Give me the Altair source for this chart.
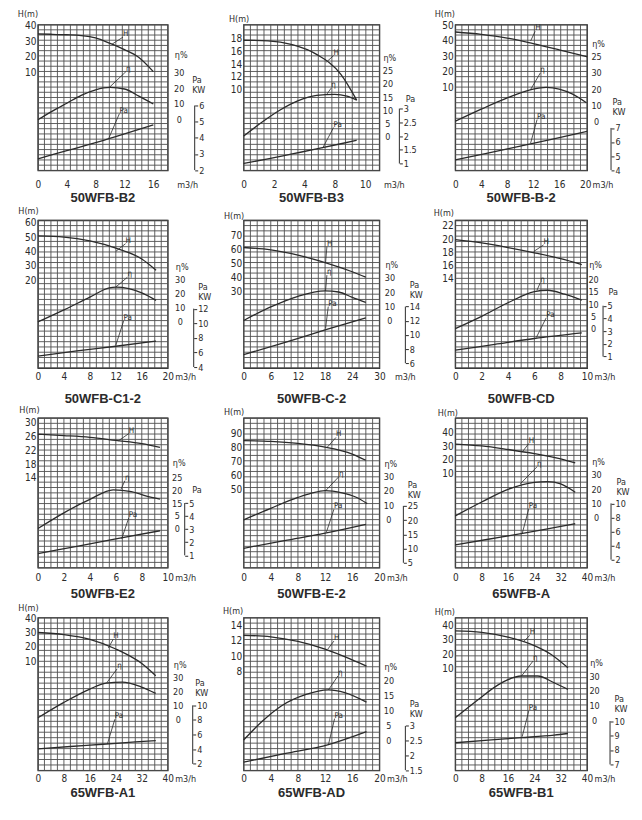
import altair as alt
import pandas as pd

FONT = "Liberation Sans Narrow, DejaVu Sans Condensed, Liberation Sans, sans-serif"
TFONT = "Liberation Sans"
INK = "#2b2b2b"
GRID = "#4f4f4f"

NAMES = ["50WFB-B2", "50WFB-B3", "50WFB-B-2",
         "50WFB-C1-2", "50WFB-C-2", "50WFB-CD",
         "50WFB-E2", "50WFB-E-2", "65WFB-A",
         "65WFB-A1", "65WFB-AD", "65WFB-B1"]

# ---------------- flow axis (m3/h) ----------------
Q_MAX = [18, 11.17, 20.3, 20, 30, 10, 10, 20, 40, 40, 20, 40]
Q_TICKS = [
    [0, 4, 8, 12, 16], [0, 2.5, 5, 7.5, 10], [0, 4, 8, 12, 16, 20],
    [0, 4, 8, 12, 16, 20], [0, 6, 12, 18, 24, 30], [0, 2, 4, 6, 8, 10],
    [0, 2, 4, 6, 8, 10], [0, 4, 8, 12, 16, 20], [0, 8, 16, 24, 32, 40],
    [0, 8, 16, 24, 32, 40], [0, 4, 8, 12, 16, 20], [0, 8, 16, 24, 32, 40],
]
Q_TEXT = [
    ["0", "4", "8", "12", "16"], ["0", "2", "4", "8", "10"], ["0", "4", "8", "12", "16", "20"],
    ["0", "4", "8", "12", "16", "20"], ["0", "6", "12", "18", "24", "30"], ["0", "2", "4", "6", "8", "10"],
    ["0", "2", "4", "6", "8", "10"], ["0", "4", "8", "12", "16", "20"], ["0", "8", "16", "24", "32", "40"],
    ["0", "8", "16", "24", "32", "40"], ["0", "4", "8", "12", "16", "20"], ["0", "8", "16", "24", "32", "40"],
]

# ---------------- head axis H (m) ----------------
H_TICKS = [
    [10, 20, 30, 40], [10, 12, 14, 16, 18], [10, 20, 30, 40, 50],
    [20, 30, 40, 50, 60], [30, 40, 50, 60, 70], [14, 16, 18, 20, 22],
    [14, 18, 22, 26, 30], [50, 60, 70, 80, 90], [10, 20, 30, 40],
    [10, 20, 30, 40], [8, 10, 12, 14], [10, 20, 30, 40],
]
# ---------------- efficiency axis (%) ----------------
E_TICKS = [
    [0, 10, 20, 30], [0, 5, 10, 15, 20, 25], [0, 10, 20, 30, 40],
    [0, 10, 20, 30], [0, 10, 20, 30], [0, 5, 10, 15, 20],
    [0, 5, 10, 15, 20], [0, 10, 20, 30], [0, 10, 20, 30],
    [0, 10, 20, 30], [0, 5, 10, 15, 20], [0, 10, 20, 30],
]
E_TEXT = [
    ["0", "10", "20", "30"], ["0", "5", "10", "15", "20", "25"], ["0", "10", "20", "30", "25"],
    ["0", "10", "20", "30"], ["0", "10", "20", "30"], ["0", "5", "10", "15", "20"],
    ["0", "5", "15", "20", "25"], ["0", "10", "20", "30"], ["0", "10", "20", "30"],
    ["0", "10", "20", "30"], ["0", "5", "10", "15", "20"], ["0", "10", "20", "30"],
]
# ---------------- shaft power axis (kW) ----------------
P_TICKS = [
    [2, 3, 4, 5, 6], [1, 1.5, 2, 2.5, 3], [4, 5, 6, 7],
    [4, 6, 8, 10, 12], [6, 8, 10, 12, 14], [1, 2, 3, 4, 5],
    [1, 2, 3, 4, 5], [5, 10, 15, 20, 25], [2, 4, 6, 8, 10],
    [2, 4, 6, 8, 10], [1.5, 2, 2.5, 3], [7, 8, 9, 10],
]
PA_TITLE_TEXT = ["Pa KW", "Pa", "Pa KW", "Pa KW", "Pa KW", "Pa",
                 "Pa", "Pa KW", "Pa KW", "Pa KW", "Pa KW", "Pa KW"]

# ---------------- curves ----------------
QH = [[0, 2, 4, 6, 8, 10, 12, 14, 16], [0, 2, 4, 6, 8, 9.3], [0, 4, 8, 12, 16, 20.3],
      [0, 4, 8, 12, 16, 18.2], [0, 6, 12, 18, 24, 27], [0, 2, 4, 6, 8, 9.6],
      [0, 2, 4, 6, 8, 9.4], [0, 4, 8, 12, 16, 18], [0, 8, 16, 24, 32, 36.4],
      [0, 8, 16, 24, 32, 36.3], [0, 4, 8, 12, 16, 18.1], [0, 8, 16, 24, 29, 34.2]]
H = [[34.5, 34.3, 34, 33.5, 32, 28.5, 24.5, 19.5, 10.5], [17.7, 17.6, 17.0, 15.5, 12.4, 8.4],
     [45.7, 44.2, 41.8, 38.2, 34.2, 29.7], [50.8, 50, 47.3, 42.3, 34.8, 27],
     [61.2, 59.5, 55.8, 50.5, 44, 40.2], [19.9, 19.4, 18.7, 17.9, 17.0, 16.1],
     [26.7, 26.3, 25.8, 24.9, 24, 22.9], [84.7, 84.2, 82.8, 80.1, 75.2, 70.8],
     [31.6, 30.2, 27.6, 24.6, 20.7, 17.7], [30.1, 28.6, 25.3, 18.6, 8.5, 0],
     [12.7, 12.5, 11.9, 10.9, 9.5, 8.7], [36.1, 35.1, 31.9, 26, 20, 10.6]]

QE = [[0, 2, 4, 6, 8, 10, 12, 14, 16], [0, 1.5, 3, 4.5, 6, 7.5, 8.5, 9.3],
      [0, 4, 8, 12, 14, 16, 18, 20.2], [0, 4, 8, 11, 12, 14, 16, 18.2],
      [0, 6, 12, 18, 21, 24, 27], [0, 2, 4, 6, 7, 8.3, 9.6],
      [0, 2, 4, 5.8, 7.2, 8.3, 9.4], [0, 4, 8, 10, 12, 14.5, 16.5, 18.2],
      [0, 8, 16, 24, 28, 32, 36.4], [0, 8, 16, 21, 26, 31.7, 36.3],
      [0, 2.7, 5.6, 9.1, 12.5, 14.9, 18.1], [0, 7, 13, 20, 25, 30, 34.2]]
ETA = [[0, 5.5, 10.5, 15.5, 19, 20.5, 19.5, 15, 10], [0, 5.3, 10, 13.6, 15.6, 16, 15.3, 13.8],
       [0, 7.5, 14.5, 20, 21, 20, 17, 11.5], [0, 8.5, 17.5, 24, 24.5, 23.5, 20.5, 15.2],
       [0, 9.5, 17, 20.8, 20, 16.2, 12.7], [0, 5, 10.5, 15, 15.6, 14, 11.6],
       [0, 6.2, 11.5, 15.3, 14.6, 12.9, 11.6], [0, 8, 15.5, 18.5, 20.3, 18.7, 15.8, 11.2],
       [1, 10.8, 19.8, 24.7, 25.3, 23.6, 17.7], [1.5, 12.5, 22, 26.3, 26.9, 23.6, 18.9],
       [0, 6.2, 11.5, 15.2, 16.8, 15.9, 12.7], [1.5, 14, 24, 30, 30, 25.4, 20.9]]

QP = [[0, 4, 8, 12, 16], [0, 2, 4, 6, 8, 9.3], [0, 5, 10, 15, 20.3], [0, 6, 12, 18.2],
      [0, 9, 18, 27], [0, 3, 6, 9.6], [0, 3, 6, 9.4], [0, 6, 12, 18],
      [0, 10, 20, 30, 36.4], [0, 10, 20, 30, 36.3], [0, 6, 12.5, 18.1], [0, 10, 20, 30, 34.2]]
PA = [[2.7, 3.2, 3.7, 4.25, 4.8], [1.0, 1.17, 1.35, 1.53, 1.72, 1.85], [4.72, 5.2, 5.7, 6.2, 6.75],
      [5.5, 6.2, 6.85, 7.55], [7.2, 8.9, 10.7, 12.4], [1.5, 1.96, 2.42, 2.86],
      [1.13, 1.69, 2.25, 2.88], [10.1, 12.8, 15.4, 18.5], [4.1, 4.9, 5.7, 6.55, 7.1],
      [4.05, 4.37, 4.68, 5.0, 5.18], [1.77, 2.06, 2.37, 2.81], [8.5, 8.68, 8.85, 9.03, 9.14]]

# curve call-outs: (q on curve, value on curve, q of label, value of label)
ANN_H = [(10.3, 28.1, 11.8, 32.5), (6.8, 14.3, 7.4, 15.3), (11.6, 39.9, 12.3, 46.1),
         (12, 40.1, 13.5, 45.4), (18.1, 50.2, 18.4, 61.8), (5.95, 18.1, 6.7, 19.1),
         (6.2, 24.8, 7.0, 26.9), (12.3, 80, 13.6, 87), (20.3, 25.7, 22.3, 32),
         (21.7, 19.3, 23.2, 25.4), (12.4, 10.9, 13.3, 11.95), (20.6, 28.5, 22.6, 33)]
ANN_E = [(9.85, 20.3, 12.2, 30.5), (6.8, 15.8, 7.2, 18.4), (11.6, 19.7, 13.1, 30),
         (12, 24.6, 13.8, 31.6), (18.1, 20.8, 18.4, 31.9), (6.2, 15.6, 6.45, 18.7),
         (6.4, 15.5, 6.7, 18.9), (12.1, 20.3, 14.05, 30), (19.75, 23.7, 24.8, 35.7),
         (21.2, 26.5, 24.4, 36.4), (12.5, 16.8, 13.9, 21.5), (20.1, 30, 23.6, 40.2)]
ANN_P = [(9.85, 4.0, 11.3, 5.5), (6.5, 1.56, 7.4, 2.31), (11.6, 5.92, 12.6, 7.6),
         (12, 7.0, 13.2, 10.3), (18.1, 10.9, 18.7, 14.0), (6.15, 2.5, 6.9, 4.05),
         (6.45, 2.25, 7.0, 3.88), (12.2, 15.8, 13.3, 23.8), (20.3, 5.7, 22.3, 9.2),
         (21.4, 4.72, 23.7, 8.1), (12.5, 2.37, 13.4, 3.25), (20.3, 8.92, 22.3, 10.7)]

# ---------------- layout (scale calibration: value at fraction of plot height) ----------------
H_CAL = [((40, .995), (10, .672)), ((18, .906), (10, .553)), ((50, .995), (10, .570)),
         ((60, .984), (20, .594)), ((70, .9), (30, .518)), ((22, .962), (14, .607)),
         ((30, .967), (14, .6)), ((90, .898), (50, .522)), ((40, .902), (10, .630)),
         ((40, .996), (10, .714)), ((14, .950), (8, .648)), ((40, .950), (10, .666))]
E_CAL = [((30, .672), (0, .347)), ((25, .682), (0, .235)), ((40, .779), (0, .337)),
         ((30, .600), (0, .312)), ((30, .611), (0, .322)), ((20, .6), (0, .267)),
         ((20, .6), (0, .262)), ((30, .609), (0, .320)), ((30, .62), (0, .337)),
         ((30, .606), (0, .331)), ((20, .590), (0, .199)), ((30, .618), (0, .330))]
P_CAL = [((6, .445), (2, .002)), ((3, .424), (1, .047)), ((7, .291), (4, .002)),
         ((12, .402), (4, .007)), ((14, .416), (6, .033)), ((5, .422), (1, .078)),
         ((5, .432), (1, .083)), ((25, .413), (5, .033)), ((10, .430), (2, .054)),
         ((10, .426), (2, .043)), ((3, .291), (1.5, .002)), ((10, .323), (7, .039))]
ETA_DX = [11, 8, 9, 12, 10, 6, 9, 9, 9, 10, 9, 7]
ETA_TF = [.796, .772, .872, .684, .704, .70, .705, .696, .707, .693, .682, .705]
PA_DX = [27, 20, 24, 26, 26, 16, 17, 24, 24, 25, 26, 23]
PA_T = [(-3, .60), (6, .494), (1, .453), (4, .53), (4, .545), (5, .518),
        (7, .52), (4, .535), (5, .553), (2, .553), (4, .419), (4, .448)]
HM = [(-10.5, -11), (-5, -6), (-11, -11), (-10, -10), (-10, -5), (-12, -8),
      (-9, -8), (-10, -6), (-8, -5), (-10, -10), (-11, -7), (-11, -6)]
XT_DX = [9, 4, 5, 7, 15, 7, 7, 7, 7, 7, 7, 7]
COL_W = [130, 136, 132]
ROW_H = [146, 148, 150, 153]
ROW_XL = [14, 8, 10, 8]
ROW_TOFF = [3, 12, 5, 4]
GRID_COLS, GRID_ROWS = 20, 28


def texpr(vals, texts):
    s = ""
    for v, t in zip(vals, texts):
        s += f"abs(datum.value - ({v})) < 0.001 ? '{t}' : "
    return s + "''"


def ydom(cal):
    (v1, f1), (v2, f2) = cal
    k = (v1 - v2) / (f1 - f2)
    lo = v2 - f2 * k
    return [lo, lo + k]


def series(q, v, ann, label, xenc, dom, yaxis):
    df = pd.DataFrame({"q": q, "v": v})
    line = alt.Chart(df).mark_line(color=INK, strokeWidth=1.3, interpolate="monotone").encode(
        x=xenc,
        y=alt.Y("v:Q", scale=alt.Scale(domain=dom, nice=False, zero=False), axis=yaxis),
    )
    q0, v0, q1, v1 = ann
    lead = alt.Chart(pd.DataFrame({"q": [q0, q1], "v": [v0, v1]})).mark_line(
        color=INK, strokeWidth=0.8).encode(
        x=xenc,
        y=alt.Y("v:Q", scale=alt.Scale(domain=dom, nice=False, zero=False), axis=None))
    txt = alt.Chart(pd.DataFrame({"q": [q1], "v": [v1], "t": [label]})).mark_text(
        align="left", baseline="bottom", dy=1, font=FONT, fontSize=8, color=INK).encode(
        x=xenc,
        y=alt.Y("v:Q", scale=alt.Scale(domain=dom, nice=False, zero=False), axis=None),
        text="t:N")
    return [line, lead, txt]


def panel(i):
    r, c = divmod(i, 3)
    W, Hh = COL_W[c], ROW_H[r]
    xl = ROW_XL[r]
    xaxis = alt.Axis(orient="bottom", values=Q_TICKS[i], labelExpr=texpr(Q_TICKS[i], Q_TEXT[i]),
                     grid=False, ticks=False, domain=False, labelPadding=xl - 5,
                     labelFlush=False, labelOverlap=False, labelBound=False,
                     title="m3/h", titleX=W + XT_DX[i], titleY=xl, titleFontSize=9,
                     titleAlign="left", titleBaseline="middle", titleFontWeight="normal")
    xenc = alt.X("q:Q", scale=alt.Scale(domain=[0, Q_MAX[i]], nice=False, zero=False), axis=xaxis)

    # grid: vertical lines at equal fractions of the flow range, horizontal lines on own scale
    gv = alt.Chart(pd.DataFrame({"q": [Q_MAX[i] * k / GRID_COLS for k in range(GRID_COLS + 1)]})).mark_rule(
        color=GRID, strokeWidth=0.9).encode(
        x=xenc, y=alt.value(0), y2=alt.value(Hh))
    gh = alt.Chart(pd.DataFrame({"g": list(range(GRID_ROWS + 1))})).mark_rule(
        color=GRID, strokeWidth=0.9).encode(
        y=alt.Y("g:Q", scale=alt.Scale(domain=[0, GRID_ROWS], nice=False), axis=None),
        x=alt.value(0), x2=alt.value(W))

    haxis = alt.Axis(orient="left", values=H_TICKS[i],
                     labelExpr=texpr(H_TICKS[i], [f"{v:g}" for v in H_TICKS[i]]),
                     grid=False, ticks=False, domain=False, labelPadding=2, labelOverlap=False,
                     title="H(m)", titleAngle=0, titleX=HM[i][0], titleY=HM[i][1],
                     titleAlign="center", titleBaseline="middle", titleFontSize=9,
                     titleFontWeight="normal")
    eaxis = alt.Axis(orient="right", values=E_TICKS[i], labelExpr=texpr(E_TICKS[i], E_TEXT[i]),
                     grid=False, ticks=False, domain=False, labelOverlap=False,
                     labelPadding=ETA_DX[i], labelAlign="center", labelFontSize=9,
                     title="η%", titleAngle=0, titleX=ETA_DX[i] + 2, titleY=(1 - ETA_TF[i]) * Hh,
                     titleAlign="center", titleBaseline="middle", titleFontSize=9,
                     titleFontWeight="normal")
    nb = "\u00a0"
    two = PA_TITLE_TEXT[i] == "Pa KW"
    ptitle = ["Pa", nb * 4 + "KW"] if two else "Pa"
    paxis = alt.Axis(orient="right", offset=PA_DX[i], values=P_TICKS[i],
                     labelExpr=texpr(P_TICKS[i], [f"{v:g}" for v in P_TICKS[i]]),
                     grid=False, ticks=True, tickSize=3, tickColor=INK, tickWidth=1,
                     domain=False, labelPadding=1, labelAlign="left", labelFontSize=9,
                     labelOverlap=False,
                     title=ptitle, titleAngle=0, titleX=PA_T[i][0],
                     titleY=(1 - PA_T[i][1]) * Hh - (3 if two else 0),
                     titleAlign="left", titleBaseline="middle", titleFontSize=9,
                     titleLineHeight=10, titleFontWeight="normal")

    hd, ed, pd_ = ydom(H_CAL[i]), ydom(E_CAL[i]), ydom(P_CAL[i])
    parts = [gv, gh]
    parts += series(QH[i], H[i], ANN_H[i], "H", xenc, hd, haxis)
    parts += series(QE[i], ETA[i], ANN_E[i], "η", xenc, ed, eaxis)
    parts += series(QP[i], PA[i], ANN_P[i], "Pa", xenc, pd_, paxis)
    pa_rule = alt.Chart(pd.DataFrame({"v": [min(P_TICKS[i])], "v2": [max(P_TICKS[i])]})).mark_rule(
        color=INK, strokeWidth=1).encode(
        x=alt.value(W + PA_DX[i]),
        y=alt.Y("v:Q", scale=alt.Scale(domain=pd_, nice=False, zero=False), axis=None), y2="v2:Q")
    parts.append(pa_rule)

    return alt.layer(*parts).resolve_scale(y="independent").properties(
        width=W, height=Hh,
        title=alt.TitleParams(NAMES[i], orient="bottom", anchor="middle", frame="group",
                              font=TFONT, fontSize=13, fontWeight="bold", color=INK,
                              offset=ROW_TOFF[r]),
    )


chart = alt.concat(*[panel(i) for i in range(12)], columns=3,
                   spacing={"row": 50, "column": 76}, bounds="flush", align="each").properties(
    padding={"left": 8, "top": 0, "right": 4, "bottom": 4},
    background="white",
).configure_view(stroke=INK, strokeWidth=1.3).configure_axis(
    labelFont=FONT, titleFont=FONT, labelColor=INK, titleColor=INK,
    labelFontSize=10, titleFontSize=10,
)

chart.save("out.html", embed_options={"renderer": "svg", "actions": False})
